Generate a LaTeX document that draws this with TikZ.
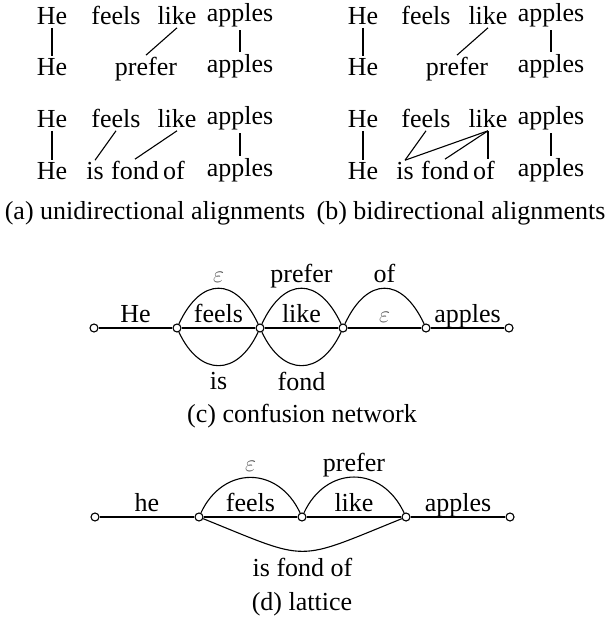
\documentclass[tikz,border=0pt]{standalone}
\usepackage{fontspec}
\setmainfont{Liberation Serif}
\begin{document}
\begin{tikzpicture}[
x=0.5pt, y=-0.5pt,
line width=0.55pt,
every node/.style={
font=\fontsize{13}{15}\selectfont,
inner sep=1pt
},
word/.style={anchor=base},
state/.style={
draw,
circle,
fill=white,
minimum size=4pt,
inner sep=0pt
},
lbl/.style={above, text depth=1.5pt},
lblb/.style={below=2pt},
eps/.style={text=black!65}
]
\useasboundingbox (0,0) rectangle (614,619);

% (a) unidirectional
\node[word] (a1he) at (52,25) {He};
\node[word] (a1feels) at (116,25) {feels};
\node[word] (a1like) at (177,25) {like};
\node[word] (a1apples) at (240,22) {apples};
\node[word] (a2he) at (52,76) {He};
\node[word] (a2prefer) at (146,76) {prefer};
\node[word] (a2apples) at (240,73) {apples};

\draw (a1he) -- (a2he);
\draw (a1like.south) -- (a2prefer.north);
\draw (a1apples) -- (a2apples);

\node[word] (a3he) at (52,128) {He};
\node[word] (a3feels) at (116,128) {feels};
\node[word] (a3like) at (177,128) {like};
\node[word] (a3apples) at (240,125) {apples};
\node[word] (a4he) at (52,180) {He};
\node[word] (a4is) at (95,180) {is};
\node[word] (a4fond) at (135,180) {fond};
\node[word] (a4of) at (174,180) {of};
\node[word] (a4apples) at (240,177) {apples};

\draw (a3he) -- (a4he);
\draw (a3feels.south) -- (a4is.north);
\draw (a3like.south) -- (a4fond.north);
\draw (a3apples) -- (a4apples);

\node[word] (capa) at (155,220) {(a) unidirectional alignments};

% (b) bidirectional
\node[word] (b1he) at (363,25) {He};
\node[word] (b1feels) at (426,25) {feels};
\node[word] (b1like) at (488,25) {like};
\node[word] (b1apples) at (551,22) {apples};
\node[word] (b2he) at (363,76) {He};
\node[word] (b2prefer) at (457,76) {prefer};
\node[word] (b2apples) at (551,73) {apples};

\draw (b1he) -- (b2he);
\draw (b1like.south) -- (b2prefer.north);
\draw (b1apples) -- (b2apples);

\node[word] (b3he) at (363,128) {He};
\node[word] (b3feels) at (426,128) {feels};
\node[word] (b3like) at (488,128) {like};
\node[word] (b3apples) at (551,125) {apples};
\node[word] (b4he) at (363,180) {He};
\node[word] (b4is) at (405,180) {is};
\node[word] (b4fond) at (445,180) {fond};
\node[word] (b4of) at (484,180) {of};
\node[word] (b4apples) at (551,177) {apples};

\draw (b3he) -- (b4he);
\draw (b3feels.south) -- (b4is.north);
\draw (b3like.south) -- (b4is.north);
\draw (b3like.south) -- (b4fond.north);
\draw (b3like.south) -- (b3like.south |- b4of.north);
\draw (b3apples) -- (b4apples);

\node[word] (capb) at (461,220) {(b) bidirectional alignments};

% (c) confusion network
\node[state] (c1) at (94,328) {};
\node[state] (c2) at (177,328) {};
\node[state] (c3) at (260,328) {};
\node[state] (c4) at (343,328) {};
\node[state] (c5) at (426,328) {};
\node[state] (c6) at (509,328) {};

\draw (c1) -- node[lbl] {He} (c2);
\draw (c2) -- node[lbl] {feels} (c3);
\draw (c2) to[out=65,in=115,looseness=1.7] node[lbl,eps] {$\varepsilon$} (c3);
\draw (c2) to[out=-65,in=-115,looseness=1.6] node[lblb] {is} (c3);
\draw (c3) -- node[lbl] {like} (c4);
\draw (c3) to[out=65,in=115,looseness=1.7] node[lbl] {prefer} (c4);
\draw (c3) to[out=-65,in=-115,looseness=1.6] node[lblb] {fond} (c4);
\draw (c4) -- node[lbl,eps] {$\varepsilon$} (c5);
\draw (c4) to[out=65,in=115,looseness=1.7] node[lbl] {of} (c5);
\draw (c5) -- node[lbl] {apples} (c6);

\node[word] (capc) at (302,422) {(c) confusion network};

% (d) lattice
\node[state] (d1) at (95,517) {};
\node[state] (d2) at (199,517) {};
\node[state] (d3) at (302,517) {};
\node[state] (d4) at (406,517) {};
\node[state] (d5) at (510,517) {};

\draw (d1) -- node[lbl] {he} (d2);
\draw (d2) -- node[lbl] {feels} (d3);
\draw (d2) to[out=65,in=115,looseness=1.35] node[lbl,eps] {$\varepsilon$} (d3);
\draw (d3) -- node[lbl] {like} (d4);
\draw (d3) to[out=65,in=115,looseness=1.35] node[lbl] {prefer} (d4);
\draw (d4) -- node[lbl] {apples} (d5);
\draw (d2) to[out=-22,in=-158,looseness=1.5] node[lblb] {is fond of} (d4);

\node[word] (capd) at (302,610) {(d) lattice};

\end{tikzpicture}
\end{document}
